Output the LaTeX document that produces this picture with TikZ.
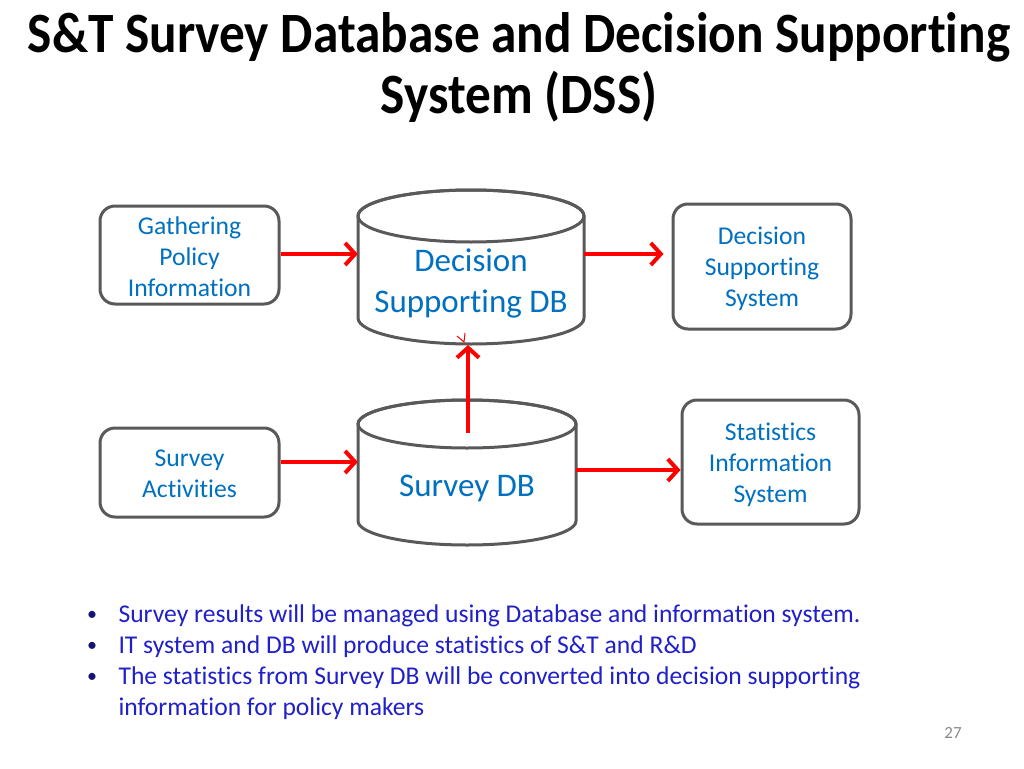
\documentclass[tikz,border=0pt]{standalone}
\usepackage{fontspec}
\setmainfont{Carlito}[Ligatures=NoCommon]
\usetikzlibrary{arrows.meta}
\definecolor{boxtext}{RGB}{0,112,192}
\definecolor{bultext}{RGB}{32,32,200}
\definecolor{bulldot}{RGB}{20,20,120}
\definecolor{border}{RGB}{89,89,89}
\definecolor{arrred}{RGB}{255,0,0}
\definecolor{pgnum}{RGB}{137,137,137}
\tikzset{
  rbox/.style={draw=border, line width=3pt, rounded corners=15pt, fill=white, inner sep=0pt},
  boxtxt/.style={text=boxtext, font=\fontsize{25.6}{31}\selectfont, align=center},
  cyltxt/.style={text=boxtext, font=\fontsize{33}{41}\selectfont, align=center},
  cylframe/.style={draw=none, inner sep=0pt},
  cylline/.style={draw=border, line width=3pt, fill=white},
  redarrow/.style={draw=arrred, line width=4pt, -{Straight Barb[length=10pt,width=22pt,line width=4pt]}},
  bul/.style={text=bultext, font=\fontsize{25.6}{31}\selectfont, anchor=west},
  dot/.style={text=bulldot, font=\fontsize{20}{31}\selectfont},
  title/.style={font=\bfseries\fontsize{57}{60}\selectfont, text=black, xscale=0.9}
}
\begin{document}
\begin{tikzpicture}[x=1pt,y=-1pt]
\useasboundingbox (0,0) rectangle (1024,768);
% title
\node[title] (t1) at (519,37) {S\&T Survey Database and Decision Supporting};
\node[title] (t2) at (519,97) {System (DSS)};

% boxes
\node[rbox, minimum width=179pt, minimum height=98pt] (gpi) at (189.5,255) {};
\node[boxtxt] (gpit) at ([yshift=-1.5pt]gpi.center) {Gathering\\Policy\\Information};
\node[rbox, minimum width=178pt, minimum height=125pt] (dss) at (762,266.5) {};
\node[boxtxt] (dsst) at ([yshift=-2pt]dss.center) {Decision\\Supporting\\System};
\node[rbox, minimum width=179pt, minimum height=89pt] (sa) at (189.5,472.5) {};
\node[boxtxt] (sat) at ([yshift=-1pt]sa.center) {Survey\\Activities};
\node[rbox, minimum width=177pt, minimum height=124pt] (sis) at (770.5,462) {};
\node[boxtxt] (sist) at ([yshift=-3pt]sis.center) {Statistics\\Information\\System};

% cylinder 1
\node[cylframe, minimum width=226pt, minimum height=154pt] (cyl1) at (471,267) {};
\path[cylline] (358,216) -- (358,318) arc[start angle=180, end angle=360, x radius=113, y radius=-26] -- (584,216) arc[start angle=0, end angle=180, x radius=113, y radius=-26] -- cycle;
\draw[border, line width=3pt] (471,216) ellipse[x radius=113, y radius=26];
\node[cyltxt] (cyl1t) at (471,283) {Decision\\Supporting DB};

% cylinder 2
\node[cylframe, minimum width=218pt, minimum height=146pt] (cyl2) at (467,472) {};
\path[cylline] (358,424) -- (358,521) arc[start angle=180, end angle=360, x radius=109, y radius=-24] -- (576,424) arc[start angle=0, end angle=180, x radius=109, y radius=-24] -- cycle;
\draw[border, line width=3pt] (467,424) ellipse[x radius=109, y radius=24];
\node[cyltxt] (cyl2t) at (467,488) {Survey DB};

% arrows
\coordinate (c1in) at (cyl1.west |- 0,254);
\coordinate (c1out) at (cyl1.east |- 0,254);
\coordinate (dssin) at (dss.west |- 0,254);
\draw[redarrow] (gpi.east |- 0,254) -- (c1in);
\draw[redarrow] (c1out) -- ([xshift=-8pt]dssin);
\coordinate (c2in) at (cyl2.west |- 0,462);
\draw[redarrow] (sa.east |- 0,462) -- (c2in);
\coordinate (c2out) at (cyl2.east |- 0,470);
\draw[redarrow] (c2out) -- (sis.west |- 0,470);
\coordinate (c2up) at (468,433);
\coordinate (c1bot) at (468,345);
\draw[redarrow] (c2up) -- (c1bot);
\draw[arrred, line width=1pt] (457,336) -- (464,342) -- (465,333);

% bullets
\node[dot] (b1d) at (92,616) {•};
\node[bul] (b1) at (115,616) {Survey results will be managed using Database and information system.};
\node[dot] (b2d) at (92,647) {•};
\node[bul] (b2) at (115,647) {IT system and DB will produce statistics of S\&T and R\&D};
\node[dot] (b3d) at (92,678) {•};
\node[bul] (b3) at (115,678) {The statistics from Survey DB will be converted into decision supporting};
\node[bul] (b4) at (115,709) {information for policy makers};

\node[text=pgnum, font=\fontsize{17}{20}\selectfont] (pg) at (953,733) {27};
\end{tikzpicture}
\end{document}
